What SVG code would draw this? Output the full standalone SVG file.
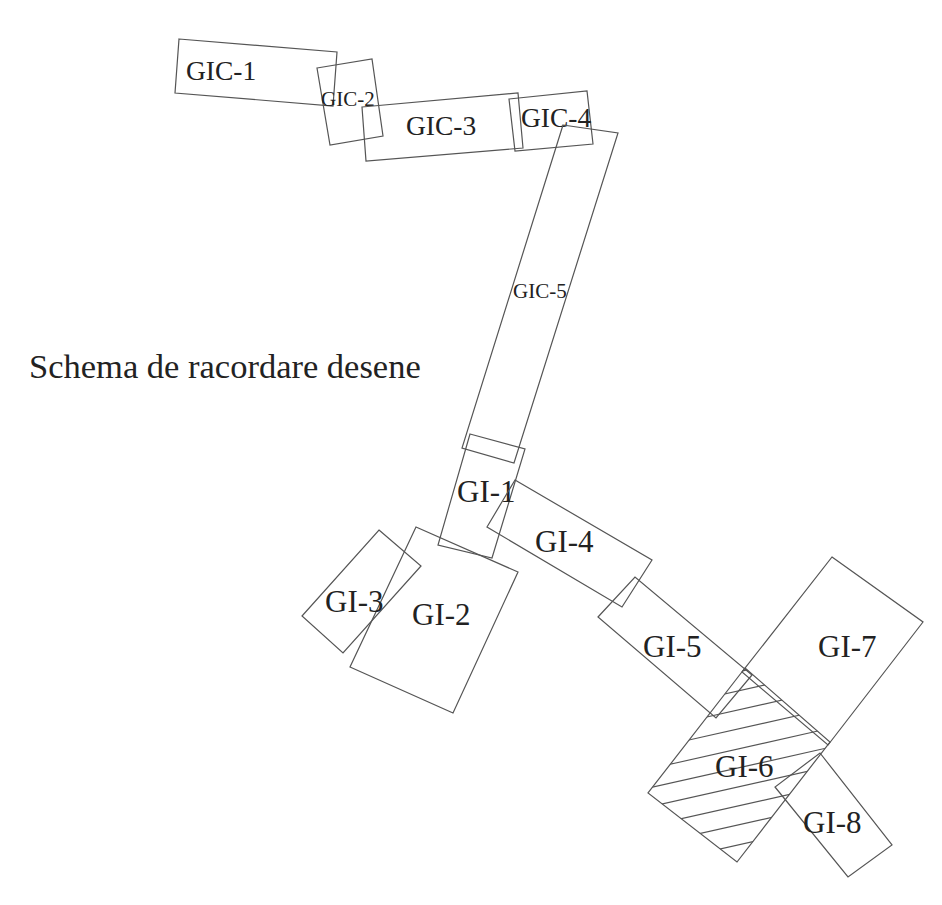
<svg xmlns="http://www.w3.org/2000/svg" width="942" height="905" viewBox="0 0 942 905">
<style>
.s{fill:none;stroke:#555555;stroke-width:1.2;stroke-linejoin:miter}
.h{stroke:#555555;stroke-width:1.2}
.t{font-family:"Liberation Serif","Times New Roman",serif;fill:#222222}
.b{font-size:27.5px}
.m{font-size:21px}
.g{font-size:31px}
</style>
<defs>
<clipPath id="clip6"><polygon points="745,668 830,742 737,862 648,793"/></clipPath>
</defs>
<rect width="942" height="905" fill="#ffffff"/>
<text class="t" x="29" y="378" style="font-size:34.5px">Schema de racordare desene</text>
<g id="GIC-1"><polygon class="s" points="179,39 337,52 333,106 175,93"/><text class="t b" x="186" y="80">GIC-1</text></g>
<g id="GIC-2"><polygon class="s" points="317,68 372,59 383,136 330,145"/><text class="t m" x="321" y="106">GIC-2</text></g>
<g id="GIC-3"><polygon class="s" points="362,107 518,93 523,148 366,161"/><text class="t b" x="406" y="135">GIC-3</text></g>
<g id="GIC-4"><polygon class="s" points="509,99 587,91 593,144 515,151"/><text class="t b" x="521" y="127">GIC-4</text></g>
<g id="GIC-5"><polygon class="s" points="563,125 618,133 514,463 462,448"/><text class="t m" x="513" y="298">GIC-5</text></g>
<g id="GI-1"><polygon class="s" points="470,434 525,449 492,558 438,545"/><text class="t g" x="457" y="502">GI-1</text></g>
<g id="GI-2"><polygon class="s" points="416,527 518,572 453,713 350,667"/><text class="t g" x="412" y="625">GI-2</text></g>
<g id="GI-3"><polygon class="s" points="379,530 421,566 343,653 302,616"/><text class="t g" x="325" y="612">GI-3</text></g>
<g id="GI-4"><polygon class="s" points="515,480 652,560 622,607 487,527"/><text class="t g" x="535" y="552">GI-4</text></g>
<g id="GI-5"><polygon class="s" points="598,617 635,577 752,675 716,718"/><text class="t g" x="643" y="657">GI-5</text></g>
<g id="GI-7"><polygon class="s" points="832,557 923,622 828,745 742,672"/><text class="t g" x="818" y="657">GI-7</text></g>
<g id="GI-6">
<polygon class="s" points="745,668 830,742 737,862 648,793"/>
<g clip-path="url(#clip6)">
<line class="h" x1="640" y1="694" x2="840" y2="649"/>
<line class="h" x1="640" y1="713" x2="840" y2="668"/>
<line class="h" x1="640" y1="732" x2="840" y2="687"/>
<line class="h" x1="640" y1="751" x2="840" y2="706"/>
<line class="h" x1="640" y1="771" x2="840" y2="726"/>
<line class="h" x1="640" y1="790" x2="840" y2="745"/>
<line class="h" x1="640" y1="809" x2="840" y2="764"/>
<line class="h" x1="640" y1="828" x2="840" y2="783"/>
<line class="h" x1="640" y1="847" x2="840" y2="802"/>
<line class="h" x1="640" y1="867" x2="840" y2="822"/>
</g>
<text class="t g" x="715" y="777">GI-6</text>
</g>
<g id="GI-8"><polygon class="s" points="820,753 892,845 848,877 775,787"/><text class="t g" x="803" y="833">GI-8</text></g>
<g id="connectors"></g>
</svg>
